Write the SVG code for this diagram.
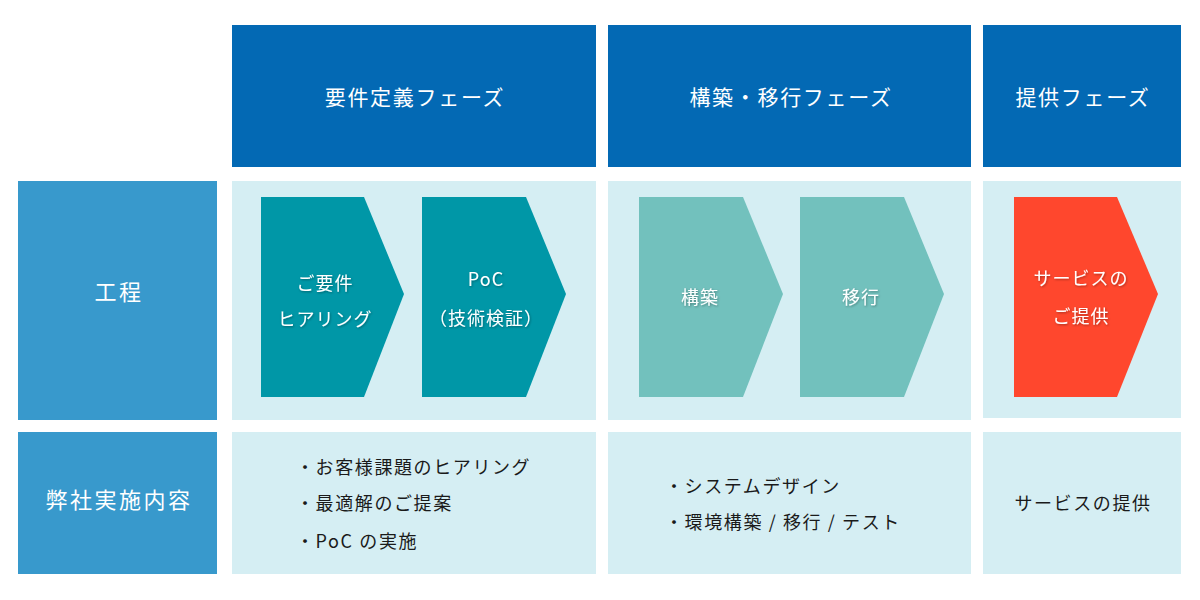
<svg xmlns="http://www.w3.org/2000/svg" width="1200" height="600" viewBox="0 0 1200 600">
<style>
text{font-family:"Noto Sans CJK JP","Noto Sans",sans-serif;}
.hdr{fill:#0369b4;}
.hdrt{fill:#fff;font-size:21px;letter-spacing:1.7px;text-anchor:middle;}
.lbl{fill:#3899cc;}
.lblt{fill:#fff;font-size:22px;letter-spacing:2.5px;text-anchor:middle;}
.pan{fill:#d5eef3;}
.a1{fill:#0097a7;}
.a2{fill:#72c1bd;}
.a3{fill:#ff472d;}
.at{fill:#fff;font-size:18px;letter-spacing:1px;text-anchor:middle;filter:url(#sh);}
.bt{fill:#1a1a1a;font-size:18px;letter-spacing:1.6px;}
</style>
<defs>
<filter id="sh" x="-20%" y="-50%" width="140%" height="200%">
<feDropShadow dx="0.8" dy="1" stdDeviation="1" flood-color="#000" flood-opacity="0.35"/>
</filter>
</defs>
<rect width="1200" height="600" fill="#fff"/>
<g id="header-requirements"><rect class="hdr" x="232" y="25" width="364" height="142"/><text class="hdrt" x="415" y="105">要件定義フェーズ</text></g>
<g id="header-build"><rect class="hdr" x="608" y="25" width="363" height="142"/><text class="hdrt" x="791" y="105">構築・移行フェーズ</text></g>
<g id="header-provide"><rect class="hdr" x="983" y="25" width="198" height="142"/><text class="hdrt" x="1083" y="105">提供フェーズ</text></g>
<g id="label-process"><rect class="lbl" x="18" y="181" width="199" height="239"/><text class="lblt" x="119" y="300">工程</text></g>
<g id="label-content"><rect class="lbl" x="18" y="432" width="199" height="142"/><text class="lblt" x="119" y="508">弊社実施内容</text></g>
<g id="panel-process-1"><rect class="pan" x="232" y="181" width="364" height="239"/></g>
<g id="panel-process-2"><rect class="pan" x="608" y="181" width="363" height="239"/></g>
<g id="panel-process-3"><rect class="pan" x="983" y="181" width="198" height="237"/></g>
<g id="step-hearing"><polygon class="a1" points="261,197 364,197 404,294 364,397 261,397"/><text class="at" x="325" y="290">ご要件</text><text class="at" x="325" y="326">ヒアリング</text></g>
<g id="step-poc"><polygon class="a1" points="422,197 526,197 566,294 526,397 422,397"/><text class="at" x="486" y="286">PoC</text><text class="at" x="486" y="325">（技術検証）</text></g>
<g id="step-build"><polygon class="a2" points="639,197 743,197 783,294 743,397 639,397"/><text class="at" x="700" y="304">構築</text></g>
<g id="step-migrate"><polygon class="a2" points="800,197 904,197 944,294 904,397 800,397"/><text class="at" x="861" y="304">移行</text></g>
<g id="step-service"><polygon class="a3" points="1014,197 1117,197 1158,294 1117,397 1014,397"/><text class="at" x="1081" y="285">サービスの</text><text class="at" x="1081" y="323">ご提供</text></g>
<g id="content-1"><rect class="pan" x="232" y="432" width="364" height="142"/><text class="bt" x="296" y="474">・お客様課題のヒアリング</text><text class="bt" x="296" y="510">・最適解のご提案</text><text class="bt" x="296" y="548">・PoC の実施</text></g>
<g id="content-2"><rect class="pan" x="608" y="432" width="363" height="142"/><text class="bt" x="665" y="493">・システムデザイン</text><text class="bt" x="665" y="529">・環境構築 / 移行 / テスト</text></g>
<g id="content-3"><rect class="pan" x="983" y="432" width="198" height="142"/><text class="bt" x="1083" y="510" text-anchor="middle">サービスの提供</text></g>
<g id="connectors"/>
</svg>
